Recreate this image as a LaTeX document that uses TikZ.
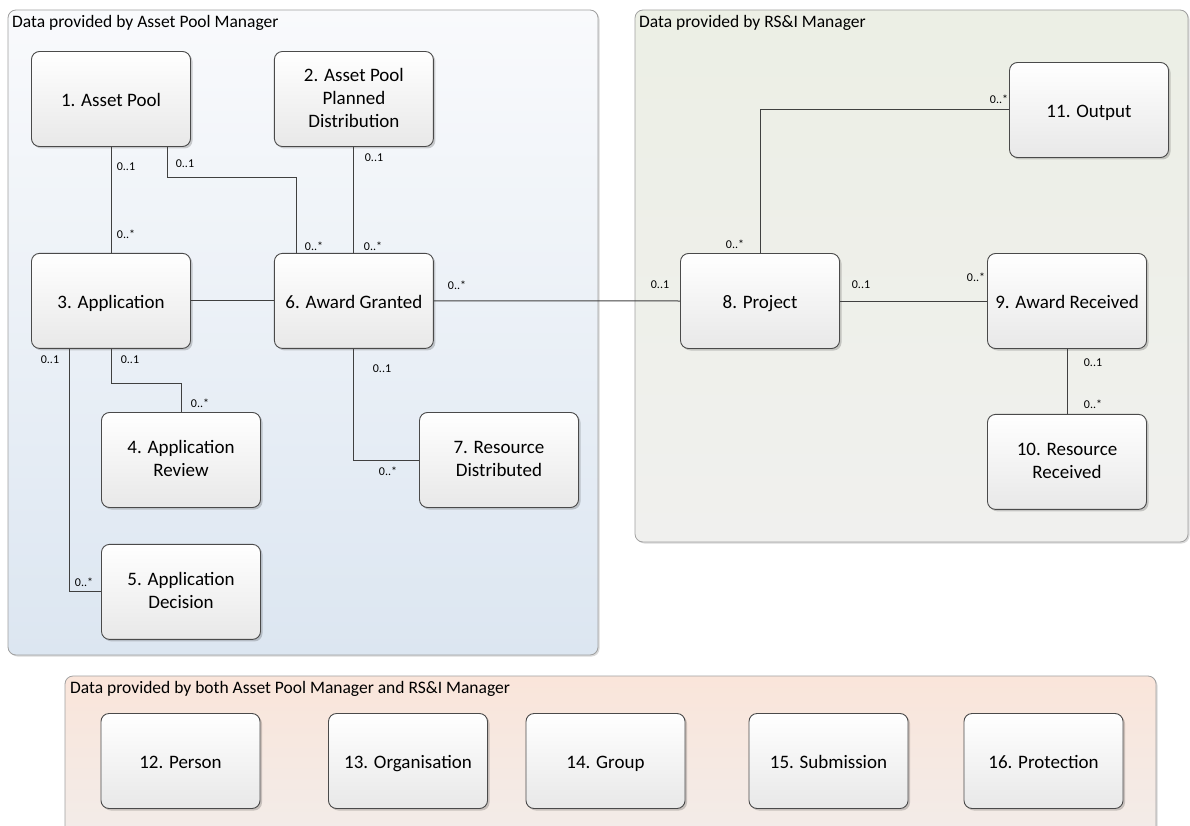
\documentclass[tikz,border=0pt]{standalone}
\usepackage{fontspec}
\setmainfont{Carlito}
\usepackage{xcolor}
\usetikzlibrary{positioning, shadows}
\definecolor{linegray}{HTML}{404040}
\definecolor{boxedge}{HTML}{4A4A4A}
\definecolor{boxshade}{HTML}{E8E8E8}
\definecolor{panegray}{HTML}{A0A0A0}
\definecolor{bluetop}{HTML}{F9FAFC}
\definecolor{bluebot}{HTML}{DCE6F1}
\definecolor{greentop}{HTML}{ECEFE5}
\definecolor{greenbot}{HTML}{F0F0EE}
\definecolor{orangetop}{HTML}{FAE5DA}
\definecolor{orangebot}{HTML}{F1EDEB}
\newcommand{\entitytop}{\rule{0pt}{18pt}}
\newcommand{\entitybot}{\rule[-3pt]{0pt}{3pt}}
\tikzset{
  entity/.style={rectangle, draw=boxedge, line width=0.9pt, rounded corners=8pt,
    minimum width=159pt, minimum height=95pt, align=center,
    top color=white, bottom color=boxshade, font=\fontsize{19}{23}\selectfont,
    execute at begin node=\entitytop, execute at end node=\entitybot,
    drop shadow={shadow xshift=2pt, shadow yshift=-2pt, opacity=0.18, fill=black}},
  pane/.style={draw=panegray, line width=0.8pt, rounded corners=8pt,
    drop shadow={shadow xshift=1.5pt, shadow yshift=-1.5pt, opacity=0.15, fill=black}},
  panetitle/.style={anchor=base west, inner sep=0pt, font=\fontsize{17.5}{20}\selectfont},
  mult/.style={inner sep=0pt, font=\fontsize{12}{14}\selectfont},
  link/.style={draw=linegray, line width=1pt},
}

\begin{document}
\begin{tikzpicture}[x=1pt, y=-1pt]
  \useasboundingbox (0,0) rectangle (1190,826);
  \clip (0,0) rectangle (1190,826);

  % containers
  \path[pane, top color=bluetop, bottom color=bluebot] (8,10) rectangle (598,655);
  \path[pane, top color=greentop, bottom color=greenbot] (635,10) rectangle (1188,542);
  \path[pane, top color=orangetop, bottom color=orangebot] (65,676) rectangle (1156,860);
  \node[panetitle] (aptitle) at (12,28) {Data provided by Asset Pool Manager};
  \node[panetitle] (rstitle) at (639,28) {Data provided by RS\&I Manager};
  \node[panetitle] (bothtitle) at (70,693) {Data provided by both Asset Pool Manager and RS\&I Manager};

  % asset pool manager
  \node[entity] (pool) at (111,99) {1. Asset Pool};
  \node[entity, right=83pt of pool] (plan) {2. Asset Pool\\Planned\\Distribution};
  \node[entity, below=106pt of pool] (app) {3. Application};
  \node[entity, right=83pt of app] (award) {6. Award Granted};
  \node[entity] (review) at (181,460) {4. Application\\Review};
  \node[entity, below=36pt of review] (decision) {5. Application\\Decision};
  \node[entity] (resdist) at (499,460) {7. Resource\\Distributed};

  % rs&i manager
  \node[entity] (proj) at (760,301) {8. Project};
  \node[entity] (awrec) at (1067,301) {9. Award Received};
  \node[entity, below=65pt of awrec] (resrec) {10. Resource\\Received};
  \node[entity] (output) at (1089,110) {11. Output};

  % shared
  \node[entity] (person) at (180.5,761) {12. Person};
  \node[entity] (org) at (408,761) {13. Organisation};
  \node[entity] (group) at (605.5,761) {14. Group};
  \node[entity] (submission) at (828.5,761) {15. Submission};
  \node[entity] (protection) at (1043.5,761) {16. Protection};

  % associations
  \draw[link] (pool.south) -- (app.north);
  \draw[link] ([xshift=56pt]pool.south) -- ++(0,31) -| ([xshift=-57pt]award.north);
  \draw[link] (plan.south) -- (award.north);
  \draw[link] (app.east) -- (award.west);
  \draw[link] (app.south) -- ++(0,35) -| (review.north);
  \draw[link] ([xshift=-42pt]app.south) |- (decision.west);
  \draw[link] (award.south) |- (resdist.west);
  \draw[link] (award.east) -- (proj.west);
  \draw[link] (proj.east) -- (awrec.west);
  \draw[link] (proj.north) |- (output.west);
  \draw[link] (awrec.south) -- (resrec.north);

  % multiplicities
  \node[mult] at (126,167) {0..1};
  \node[mult] at (126,234) {0..*};
  \node[mult] at (185,164) {0..1};
  \node[mult] at (314,246) {0..*};
  \node[mult] at (374,158) {0..1};
  \node[mult] at (373,246) {0..*};
  \node[mult] at (50,360) {0..1};
  \node[mult] at (130,360) {0..1};
  \node[mult] at (200,403) {0..*};
  \node[mult] at (84,582) {0..*};
  \node[mult] at (382,369) {0..1};
  \node[mult] at (388,471) {0..*};
  \node[mult] at (457,285) {0..*};
  \node[mult] at (660,285) {0..1};
  \node[mult] at (861,285) {0..1};
  \node[mult] at (976,277) {0..*};
  \node[mult] at (735,244) {0..*};
  \node[mult] at (999,99) {0..*};
  \node[mult] at (1093,363) {0..1};
  \node[mult] at (1093,404) {0..*};
\end{tikzpicture}
\end{document}
